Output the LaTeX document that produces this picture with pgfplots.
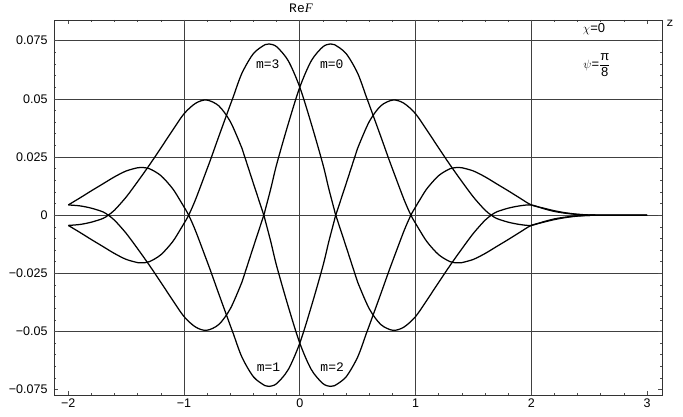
\documentclass[border=0pt]{standalone}
\usepackage{amsmath}
\usepackage{fontspec}
\setmainfont{Liberation Sans}
\newfontfamily\monofont{Liberation Mono}
\newfontfamily\seriffont{Liberation Serif}
\usepackage{pgfplots}
\pgfplotsset{compat=1.18}
\pgfplotsset{curve/.style={black, line width=1.25pt, mark=none, smooth, tension=0.5}}
\begin{document}
\begin{tikzpicture}[x=1pt,y=1pt]
\path[use as bounding box] (0,0) rectangle (683,416);
\begin{axis}[
  at={(54pt,21pt)}, anchor=south west,
  scale only axis, width=608pt, height=375pt,
  xmin=-2.1236, xmax=3.1296, ymin=-0.0773, ymax=0.0839,
  clip=false,
  scaled ticks=false,
  xtick={-2,-1,0,1,2,3},
  xticklabels={−2,−1,0,1,2,3},
  ytick={-0.075,-0.05,-0.025,0,0.025,0.05,0.075},
  yticklabels={−0.075,−0.05,−0.025,0,0.025,0.05,0.075},
  minor x tick num=4, minor y tick num=4,
  extra x ticks={-1,0,1,2}, extra x tick labels={},
  extra y ticks={-0.05,-0.025,0,0.025,0.05,0.075}, extra y tick labels={},
  extra tick style={grid=major, major grid style={line width=0.7pt, color=black!75}},
  tick align=inside,
  major tick length=4pt, minor tick length=2.2pt,
  every tick/.style={line width=0.6pt, black!70},
  axis line style={line width=0.8pt, black!80},
  tick label style={font=\fontsize{12.5}{12.5}\selectfont},
  yticklabel style={xshift=-3pt},
]
% m=0
\addplot[curve] coordinates {(-2.0,0.0044)(-1.9,0.0040)(-1.8,0.0030)(-1.7,0.0014)(-1.655,0.0)(-1.6,-0.0022)(-1.5,-0.0078)(-1.4,-0.0145)(-1.3,-0.0215)(-1.2,-0.0289)(-1.1,-0.0364)(-1.0,-0.0436)(-0.9,-0.0481)(-0.806,-0.0495)(-0.7,-0.0470)(-0.6,-0.0402)(-0.5,-0.0288)(-0.475,-0.0250)(-0.4,-0.0135)(-0.311,0.0)(-0.3,0.0020)(-0.25,0.0115)(-0.2,0.0218)(-0.1,0.0392)(0.0,0.0550)(0.1,0.0664)(0.2,0.0724)(0.265,0.0736)(0.3,0.0733)(0.4,0.0695)(0.5,0.0610)(0.576,0.0507)(0.6,0.0475)(0.7,0.0338)(0.763,0.0250)(0.8,0.0200)(0.9,0.0068)(0.96,0.0)(1.0,-0.0035)(1.036,-0.0065)(1.1,-0.0115)(1.2,-0.0170)(1.3,-0.0200)(1.367,-0.0205)(1.4,-0.0204)(1.5,-0.0190)(1.6,-0.0165)(1.7,-0.0135)(1.8,-0.0105)(1.9,-0.0074)(2.0,-0.0044)(2.1,-0.0031)(2.2,-0.0019)(2.3,-0.0010)(2.4,-0.0004)(2.5,-0.0001)(2.6,0)(3.0,0)};
% m=2
\addplot[curve] coordinates {(-2.0,-0.0044)(-1.9,-0.0040)(-1.8,-0.0030)(-1.7,-0.0014)(-1.655,0.0)(-1.6,0.0022)(-1.5,0.0078)(-1.4,0.0145)(-1.3,0.0215)(-1.2,0.0289)(-1.1,0.0364)(-1.0,0.0436)(-0.9,0.0481)(-0.806,0.0495)(-0.7,0.0470)(-0.6,0.0402)(-0.5,0.0288)(-0.475,0.0250)(-0.4,0.0135)(-0.311,0.0)(-0.3,-0.0020)(-0.25,-0.0115)(-0.2,-0.0218)(-0.1,-0.0392)(0.0,-0.0550)(0.1,-0.0664)(0.2,-0.0724)(0.265,-0.0736)(0.3,-0.0733)(0.4,-0.0695)(0.5,-0.0610)(0.576,-0.0507)(0.6,-0.0475)(0.7,-0.0338)(0.763,-0.0250)(0.8,-0.0200)(0.9,-0.0068)(0.96,0.0)(1.0,0.0035)(1.036,0.0065)(1.1,0.0115)(1.2,0.0170)(1.3,0.0200)(1.367,0.0205)(1.4,0.0204)(1.5,0.0190)(1.6,0.0165)(1.7,0.0135)(1.8,0.0105)(1.9,0.0074)(2.0,0.0044)(2.1,0.0031)(2.2,0.0019)(2.3,0.0010)(2.4,0.0004)(2.5,0.0001)(2.6,0)(3.0,0)};
% m=3
\addplot[curve] coordinates {(-2.0,-0.0044)(-1.9,-0.0074)(-1.8,-0.0105)(-1.7,-0.0135)(-1.6,-0.0165)(-1.5,-0.0190)(-1.4,-0.0204)(-1.367,-0.0205)(-1.3,-0.0200)(-1.2,-0.0170)(-1.1,-0.0115)(-1.036,-0.0065)(-1.0,-0.0035)(-0.96,0.0)(-0.9,0.0068)(-0.8,0.0200)(-0.763,0.0250)(-0.7,0.0338)(-0.6,0.0475)(-0.576,0.0507)(-0.5,0.0610)(-0.4,0.0695)(-0.3,0.0733)(-0.265,0.0736)(-0.2,0.0724)(-0.1,0.0664)(0.0,0.0550)(0.1,0.0392)(0.2,0.0218)(0.25,0.0115)(0.3,0.0020)(0.311,0.0)(0.4,-0.0135)(0.475,-0.0250)(0.5,-0.0288)(0.6,-0.0402)(0.7,-0.0470)(0.806,-0.0495)(0.9,-0.0481)(1.0,-0.0436)(1.1,-0.0364)(1.2,-0.0289)(1.3,-0.0215)(1.4,-0.0145)(1.5,-0.0078)(1.6,-0.0022)(1.655,0.0)(1.7,0.0014)(1.8,0.0030)(1.9,0.0040)(2.0,0.0044)(2.1,0.0029)(2.2,0.0016)(2.3,0.0008)(2.4,0.0003)(2.5,0.0001)(2.6,0)(3.0,0)};
% m=1
\addplot[curve] coordinates {(-2.0,0.0044)(-1.9,0.0074)(-1.8,0.0105)(-1.7,0.0135)(-1.6,0.0165)(-1.5,0.0190)(-1.4,0.0204)(-1.367,0.0205)(-1.3,0.0200)(-1.2,0.0170)(-1.1,0.0115)(-1.036,0.0065)(-1.0,0.0035)(-0.96,0.0)(-0.9,-0.0068)(-0.8,-0.0200)(-0.763,-0.0250)(-0.7,-0.0338)(-0.6,-0.0475)(-0.576,-0.0507)(-0.5,-0.0610)(-0.4,-0.0695)(-0.3,-0.0733)(-0.265,-0.0736)(-0.2,-0.0724)(-0.1,-0.0664)(0.0,-0.0550)(0.1,-0.0392)(0.2,-0.0218)(0.25,-0.0115)(0.3,-0.0020)(0.311,0.0)(0.4,0.0135)(0.475,0.0250)(0.5,0.0288)(0.6,0.0402)(0.7,0.0470)(0.806,0.0495)(0.9,0.0481)(1.0,0.0436)(1.1,0.0364)(1.2,0.0289)(1.3,0.0215)(1.4,0.0145)(1.5,0.0078)(1.6,0.0022)(1.655,0.0)(1.7,-0.0014)(1.8,-0.0030)(1.9,-0.0040)(2.0,-0.0044)(2.1,-0.0029)(2.2,-0.0016)(2.3,-0.0008)(2.4,-0.0003)(2.5,-0.0001)(2.6,0)(3.0,0)};
\node[font=\monofont\fontsize{13}{13}\selectfont] at (axis cs:-0.2765,0.0648) {m=3};
\node[font=\monofont\fontsize{13}{13}\selectfont] at (axis cs:0.2765,0.0648) {m=0};
\node[font=\monofont\fontsize{13}{13}\selectfont] at (axis cs:-0.27,-0.0652) {m=1};
\node[font=\monofont\fontsize{13}{13}\selectfont] at (axis cs:0.28,-0.0652) {m=2};
\end{axis}
\node[font=\fontsize{13}{13}\selectfont] at (301,407.5) {{\monofont Re}{\seriffont\itshape F}};
\node[font=\monofont\fontsize{12}{12}\selectfont] at (670,393) {z};
\node[font=\fontsize{13}{13}\selectfont] at (594,386.5) {$\chi$=0};
\node[font=\fontsize{13}{13}\selectfont] at (597,351) {$\psi$=$\dfrac{\mbox{π}}{\mbox{8}}$};
\end{tikzpicture}
\end{document}
